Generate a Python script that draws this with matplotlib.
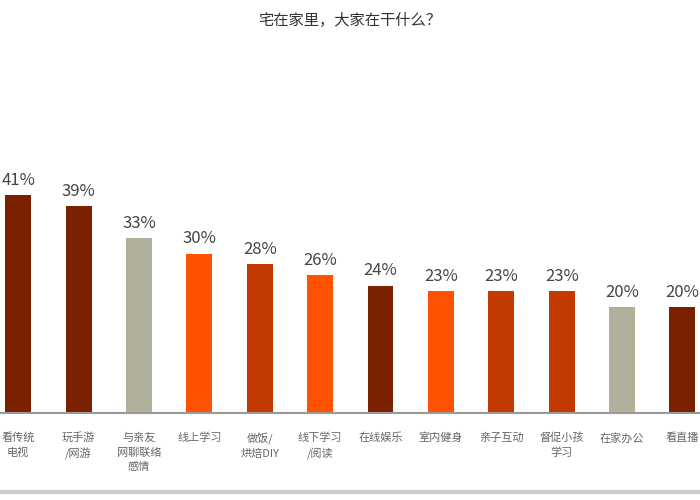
import matplotlib
matplotlib.use("Agg")
import matplotlib.pyplot as plt

plt.rcParams['font.family'] = ['Noto Sans CJK SC', 'DejaVu Sans']

categories = ["看传统\n电视", "玩手游\n/网游", "与亲友\n网聊联络\n感情", "线上学习", "做饭/\n烘焙DIY",
              "线下学习\n/阅读", "在线娱乐", "室内健身", "亲子互动", "督促小孩\n学习", "在家办公", "看直播"]
values = [41, 39, 33, 30, 28, 26, 24, 23, 23, 23, 20, 20]
colors = ["#7A2100", "#7A2100", "#B0B09C", "#FF5200", "#C23A00", "#FF5200",
          "#7A2100", "#FF5200", "#C23A00", "#C23A00", "#B0B09C", "#7A2100"]

fig = plt.figure(figsize=(7, 5), dpi=100)
ax = fig.add_axes([0, 0.174, 1, 0.626])
x = range(len(values))
ax.bar(x, values, width=0.43, color=colors)
for i, v in zip(x, values):
    ax.text(i, v + 1.2, f"{v}%", ha='center', va='bottom', fontsize=12, color='#444444')
ax.set_xlim(-0.3, 11.29)
ax.set_ylim(0, 59)
ax.set_xticks(list(x))
ax.set_xticklabels(categories, fontsize=8, color='#666666', va='top', linespacing=1.5)
ax.tick_params(axis='x', length=0, pad=14)
ax.set_yticks([])
for s in ['top', 'right', 'left']:
    ax.spines[s].set_visible(False)
ax.spines['bottom'].set_color('#999999')
ax.spines['bottom'].set_linewidth(1.5)
fig.text(0.5, 0.96, "宅在家里，大家在干什么？", ha='center', va='center', fontsize=11, color='#333333')
fig.add_artist(plt.Line2D([0, 1], [0.016, 0.016], color='#cccccc', lw=3))
fig.savefig("out.png", dpi=100)
